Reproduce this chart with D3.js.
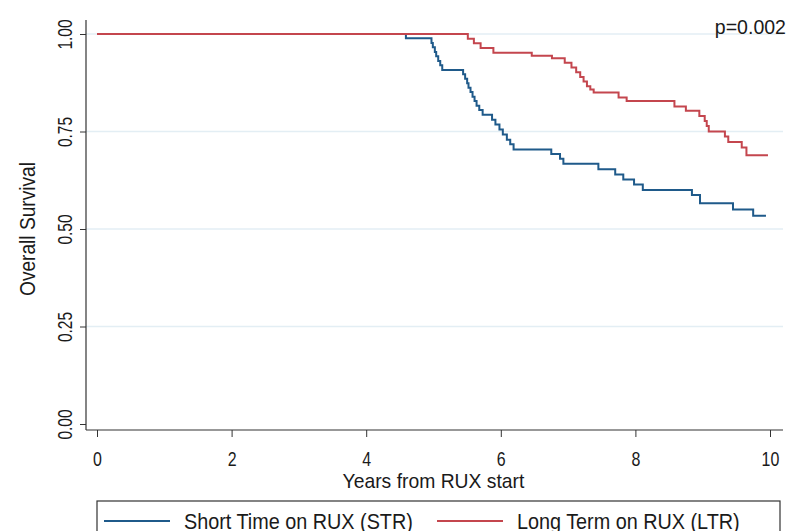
<!DOCTYPE html>
<html lang="en">
<head>
  <meta charset="UTF-8">
  <title>Overall Survival</title>
  <script src="https://d3js.org/d3.v7.min.js"></script>
  <style>
    * { margin: 0; padding: 0; box-sizing: border-box; }
    body { background: #fff; }
    svg text { font-family: "Liberation Sans", Arial, sans-serif; fill: #1a1a1a; }
  </style>
</head>
<body>
  <div id="chart"></div>
  <script>
    // Kaplan-Meier steps
    const strTime = [0, 4.59, 4.97, 4.99, 5.02, 5.04, 5.07, 5.10, 5.13,
                     5.44, 5.47, 5.50, 5.52, 5.55, 5.58, 5.61, 5.64, 5.68, 5.73,
                     5.87, 5.92, 5.98, 6.03, 6.09, 6.14, 6.19,
                     6.75, 6.88, 6.93, 7.45, 7.70, 7.82, 7.98, 8.11, 8.84, 8.96, 9.45, 9.75, 9.94];
    const strSurv = [1, 0.989, 0.977, 0.966, 0.954, 0.943, 0.931, 0.920, 0.908,
                     0.897, 0.885, 0.874, 0.862, 0.851, 0.839, 0.828, 0.816, 0.805, 0.793,
                     0.780, 0.768, 0.755, 0.742, 0.729, 0.717, 0.704,
                     0.692, 0.680, 0.667, 0.653, 0.640, 0.627, 0.614, 0.600, 0.587, 0.566, 0.550, 0.534, 0.534];

    const ltrTime = [0, 5.51, 5.60, 5.70, 5.89, 6.46, 6.76, 6.95, 7.05, 7.12, 7.18, 7.23, 7.28, 7.33, 7.38,
                     7.75, 7.87, 8.58, 8.75, 8.95, 9.03, 9.06, 9.09, 9.33, 9.38, 9.58, 9.65, 9.97];
    const ltrSurv = [1, 0.988, 0.976, 0.964, 0.952, 0.944, 0.938, 0.926, 0.914, 0.902, 0.890, 0.878, 0.866, 0.858, 0.850,
                     0.837, 0.828, 0.814, 0.803, 0.790, 0.777, 0.764, 0.750, 0.737, 0.723, 0.709, 0.689, 0.689];

    const xTicks = [0, 2, 4, 6, 8, 10];
    const yTicks = [0, 0.25, 0.5, 0.75, 1];
    const groups = ["Short Time on RUX (STR)", "Long Term on RUX (LTR)"];
    const pValue = "p=0.002";

    const W = 787, H = 531;
    const colors = ["#1f5a8a", "#c4464e"];

    // the original uses a narrow face: squeeze glyphs horizontally
    function squeeze(sel, k) {
      sel.each(function() {
        const w = this.getComputedTextLength();
        d3.select(this).attr("textLength", w * k).attr("lengthAdjust", "spacingAndGlyphs");
      });
    }

    const svg = d3.select("#chart").append("svg")
                  .attr("width", W)
                  .attr("height", H);

    const x = d3.scaleLinear().domain([0, 10]).range([97, 770]);
    const y = d3.scaleLinear().domain([0, 1]).range([424, 34]);

    // plot region frame
    const frame = {left: 86, right: 783, top: 20, bottom: 430};

    // grid lines
    svg.append("g")
       .selectAll("line")
       .data(yTicks.filter(d => d > 0))
       .enter()
       .append("line")
       .attr("x1", frame.left)
       .attr("x2", frame.right)
       .attr("y1", d => y(d))
       .attr("y2", d => y(d))
       .attr("stroke", "#e3eef4")
       .attr("stroke-width", 1.3);

    // y axis
    const yAxis = svg.append("g")
       .attr("transform", `translate(${frame.left},0)`)
       .call(d3.axisLeft(y).tickValues(yTicks).tickSize(6).tickFormat(d3.format(".2f")));
    yAxis.select(".domain").remove();
    yAxis.selectAll("line").attr("stroke", "#333");
    yAxis.selectAll("text")
         .attr("transform", "rotate(-90)")
         .attr("x", 0)
         .attr("y", -14)
         .attr("dy", 0)
         .attr("text-anchor", "middle")
         .attr("fill", "#1a1a1a")
         .style("font-size", "21px")
         .call(squeeze, 0.74);

    // x axis
    const xAxis = svg.append("g")
       .attr("transform", `translate(0,${frame.bottom})`)
       .call(d3.axisBottom(x).tickValues(xTicks).tickSize(7));
    xAxis.select(".domain").remove();
    xAxis.selectAll("line").attr("stroke", "#333");
    xAxis.selectAll("text")
         .attr("y", 36)
         .attr("dy", 0)
         .attr("fill", "#1a1a1a")
         .style("font-size", "21px")
         .call(squeeze, 0.76);

    svg.append("line").attr("x1", frame.left).attr("x2", frame.left).attr("y1", frame.top).attr("y2", frame.bottom)
       .attr("stroke", "#333").attr("stroke-width", 1.2);
    svg.append("line").attr("x1", frame.left).attr("x2", frame.right).attr("y1", frame.bottom).attr("y2", frame.bottom)
       .attr("stroke", "#333").attr("stroke-width", 1.2);

    // axis titles
    svg.append("text")
       .attr("x", (x(0) + x(10)) / 2)
       .attr("y", 488)
       .attr("text-anchor", "middle")
       .style("font-size", "21px")
       .text("Years from RUX start")
       .call(squeeze, 0.92);

    svg.append("text")
       .attr("transform", `translate(35,${(y(0) + y(1)) / 2}) rotate(-90)`)
       .attr("text-anchor", "middle")
       .style("font-size", "22px")
       .text("Overall Survival")
       .call(squeeze, 0.87);

    svg.append("text")
       .attr("x", 786)
       .attr("y", 34)
       .attr("text-anchor", "end")
       .style("font-size", "21px")
       .text(pValue)
       .call(squeeze, 0.93);

    // survival curves
    const line = d3.line()
                   .x(d => x(d[0]))
                   .y(d => y(d[1]))
                   .curve(d3.curveStepAfter);

    const series = [d3.zip(strTime, strSurv), d3.zip(ltrTime, ltrSurv)];

    svg.selectAll(".km")
       .data(series)
       .enter()
       .append("path")
       .attr("class", "km")
       .attr("d", line)
       .attr("fill", "none")
       .attr("stroke", (d, i) => colors[i])
       .attr("stroke-width", 2);

    // legend
    const legend = svg.append("g");
    legend.append("rect")
          .attr("x", 97)
          .attr("y", 501)
          .attr("width", 683)
          .attr("height", 50)
          .attr("fill", "#fff")
          .attr("stroke", "#333")
          .attr("stroke-width", 1.2);

    const legendX = [104, 437];
    groups.forEach((g, i) => {
      legend.append("line")
            .attr("x1", legendX[i])
            .attr("x2", legendX[i] + 66)
            .attr("y1", 521)
            .attr("y2", 521)
            .attr("stroke", colors[i])
            .attr("stroke-width", 2);
      legend.append("text")
            .attr("x", legendX[i] + 80)
            .attr("y", 529)
            .style("font-size", "22px")
            .text(g)
            .call(squeeze, 0.9);
    });
  </script>
</body>
</html>
